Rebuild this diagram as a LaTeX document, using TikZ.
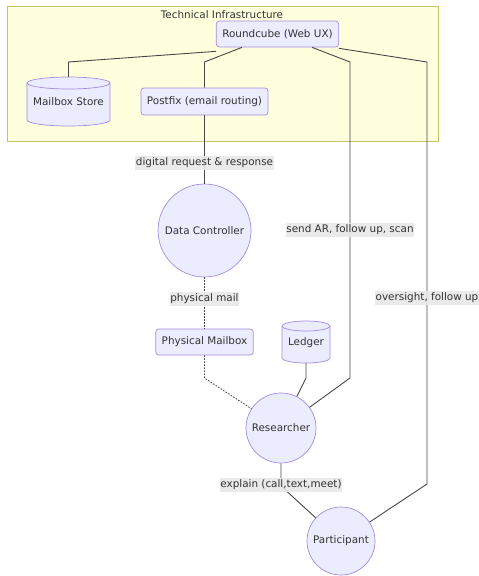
\documentclass[tikz,border=0pt]{standalone}
\usepackage{fontspec}
\setmainfont{DejaVu Sans}
\usetikzlibrary{calc}
\definecolor{nodefill}{HTML}{ECECFF}
\definecolor{nodeline}{HTML}{A58BE0}
\definecolor{edgecol}{HTML}{333333}
\definecolor{clusterfill}{HTML}{FFFFDE}
\definecolor{clusterline}{HTML}{C4C466}
\definecolor{lblfill}{HTML}{E8E8E8}
\newcommand\drawcyl[5]{%
  \filldraw[fill=nodefill,draw=nodeline,line width=0.7pt]
    ({#1-#3/2},{#2-#4/2+#5}) -- ({#1-#3/2},{#2+#4/2-#5})
    arc[start angle=180,end angle=0,x radius={#3/2},y radius=#5]
    -- ({#1+#3/2},{#2-#4/2+#5})
    arc[start angle=0,end angle=-180,x radius={#3/2},y radius=#5] -- cycle;
  \draw[draw=nodeline,line width=0.7pt] ({#1-#3/2},{#2-#4/2+#5})
    arc[start angle=180,end angle=0,x radius={#3/2},y radius=#5];
}
\begin{document}
\begin{tikzpicture}[x=1pt,y=-1pt,
  font=\fontsize{10.4}{12}\selectfont, text=edgecol,
  box/.style={draw=nodeline, fill=nodefill, rounded corners=3pt, line width=0.7pt,
    inner xsep=6pt, inner ysep=0pt, minimum height=26pt},
  circ/.style={circle, draw=nodeline, fill=nodefill, line width=0.7pt, inner sep=0pt},
  cyltext/.style={inner sep=0pt},
  edge/.style={draw=edgecol!90, line width=0.9pt},
  dotline/.style={draw=edgecol!90, line width=0.9pt, dash pattern=on 1.5pt off 1.5pt},
  lbl/.style={fill=lblfill, fill opacity=0.9, text opacity=1, inner xsep=0.5pt, inner ysep=2pt}]
\useasboundingbox (0,0) rectangle (479,576);
% cluster
\draw[fill=clusterfill, draw=clusterline, line width=0.8pt] (7,6) rectangle (438,141);
\node[inner sep=0pt] (ctitle) at (222,15) {Technical Infrastructure};
% nodes
\node[box] (rc) at (277.5,34) {Roundcube (Web UX)};
\drawcyl{68.5}{101.5}{83}{49}{6}
\node[cyltext, minimum width=83pt, minimum height=49pt] (ms) at (68.5,101.5) {Mailbox Store};
\node[box, minimum height=27pt] (pf) at (204.5,101.5) {Postfix (email routing)};
\node[circ, minimum size=93pt] (dc) at (204.5,230.5) {Data Controller};
\node[box] (pm) at (204.5,342) {Physical Mailbox};
\drawcyl{306}{342}{48}{42}{5}
\node[cyltext, minimum width=48pt, minimum height=42pt] (led) at (306,343) {Ledger};
\node[circ, minimum size=70pt] (res) at (281,428) {Researcher};
\node[circ, minimum size=68pt] (par) at (341,541) {Participant};
% edges
\draw[edge] ([yshift=-4pt]rc.south west) -- (ms.north |- 0,62) -- (ms.north);
\draw[edge] ([xshift=26pt]rc.south west) -- (pf.north |- 0,62) -- (pf.north);
\draw[edge] ([xshift=-27pt]rc.south east) -- (350,62) -- (350,378) -- (res);
\draw[edge] ([yshift=-1pt]rc.south east) -- (427,62) -- (427,484) -- (par);
\draw[edge] (pf.south) -- (dc.north);
\draw[dotline] (dc.south) -- (pm.north);
\draw[dotline] (pm.south) -- (204.5,378) -- (res);
\draw[edge] (led.south |- 0,363) -- (306,378) -- (res);
\draw[edge] (res.south) -- (281,486) -- (par);
% labels
\node[lbl] (l1) at (204.5,163) {digital request \& response};
\node[lbl] (l2) at (350,230) {send AR, follow up, scan};
\node[lbl] (l3) at (204.5,299) {physical mail};
\node[lbl] (l4) at (427,298) {oversight, follow up};
\node[lbl] (l5) at (281,485) {explain (call,text,meet)};
\end{tikzpicture}
\end{document}
